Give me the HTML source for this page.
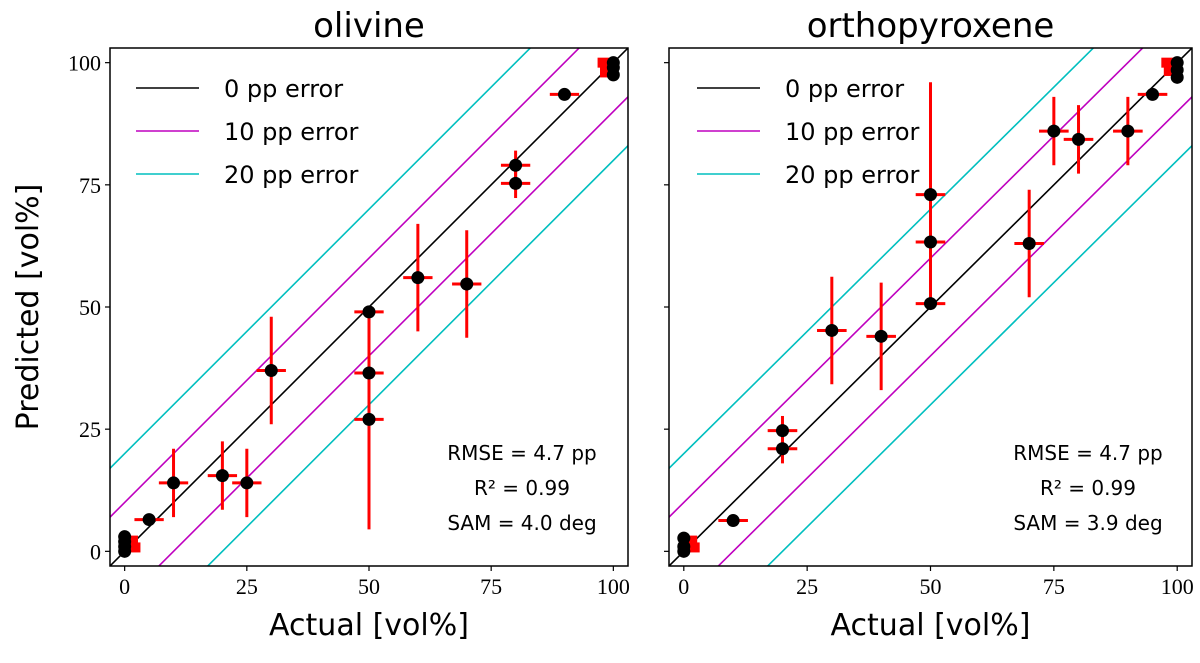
<!DOCTYPE html>
<html><head><meta charset="utf-8"><style>
body{margin:0;background:#fff}
svg text{font-family:"DejaVu Sans","Liberation Sans",sans-serif}
.tk{font-family:"Liberation Serif","DejaVu Serif",serif;font-size:22px}
</style></head><body>
<svg id="chart" width="1200" height="658" xmlns="http://www.w3.org/2000/svg"></svg>
<script>
const ticks=[0,25,50,75,100];
const errorLevels=[0,10,20];
const legendLabels=["0 pp error","10 pp error","20 pp error"];
const titles=["olivine","orthopyroxene"];
const olX=[0,0,0,0,5,10,20,25,30,50,50,50,60,70,80,80,90,100,100,100];
const olY=[0,1,2,3,6.5,14,15.5,14,37,49,36.5,27,56,54.7,79,75.3,93.5,100,99,97.5];
const olXe=[0,0,0,0,3,3,3,3,3,3,3,3,3,3,3,3,3,0,0,0];
const olYe=[0,0,0,0,0,7,7,7,11,0,11,22.5,11,11,3,3,0,0,0,0];
const olSqX=[2,1.5,98,98.5];
const olSqY=[0.8,2.2,100,98];
const opX=[0,0,0,10,20,20,30,40,50,50,50,70,75,80,90,95,100,100,100];
const opY=[0,1,2.7,6.3,24.7,21,45.2,44,73,63.3,50.7,63,86,84.3,86,93.5,100,98.5,97];
const opXe=[0,0,0,3,3,3,3,3,3,3,3,3,3,3,3,3,0,0,0];
const opYe=[0,0,0,0,3,3,11,11,23,10,0,11,7,7,7,0,0,0,0];
const opSqX=[2,1.5,98,98.5];
const opSqY=[0.8,2.2,100,98.3];
const stats=[["RMSE = 4.7 pp","R² = 0.99","SAM = 4.0 deg"],["RMSE = 4.7 pp","R² = 0.99","SAM = 3.9 deg"]];
const NS="http://www.w3.org/2000/svg";
const svg=document.getElementById('chart');
function mk(tag,attrs,parent){const e=document.createElementNS(NS,tag);for(const k in attrs)e.setAttribute(k,attrs[k]);(parent||svg).appendChild(e);return e;}
const panels=[{l:110,r:628,X:olX,Y:olY,Xe:olXe,Ye:olYe,SX:olSqX,SY:olSqY,lx:136,sx:522},{l:669,r:1192,X:opX,Y:opY,Xe:opXe,Ye:opYe,SX:opSqX,SY:opSqY,lx:697,sx:1088}];
const axTop=48,axBot=566,vmin=-3,vmax=103;
panels.forEach((p,pi)=>{
  const sx=v=>p.l+(v-vmin)/(vmax-vmin)*(p.r-p.l);
  const sy=v=>axBot-(v-vmin)/(vmax-vmin)*(axBot-axTop);
  const g=mk('g',{});
  
  
  const cid='clip'+pi;
  const cp=mk('clipPath',{id:cid},g);mk('rect',{x:p.l,y:axTop,width:p.r-p.l,height:axBot-axTop},cp);
  const cols=['#000','#bf00bf','#00bfbf'];
  const lines=mk('g',{'clip-path':`url(#${cid})`},g);
  errorLevels.forEach((e,i)=>{
    const offs=e===0?[0]:[e,-e];
    offs.forEach(o=>{
      const ln=mk('line',{x1:sx(vmin),y1:sy(vmin+o),x2:sx(vmax),y2:sy(vmax+o),stroke:cols[i],'stroke-width':1.6},lines);
      
      
    });
  });
  const pts=mk('g',{'clip-path':`url(#${cid})`},g);
  p.SX.forEach((x,i)=>{
    const s=mk('rect',{x:sx(x)-6,y:sy(p.SY[i])-5,width:12,height:10,fill:'#f00'},pts);
    
  });
  p.X.forEach((x,i)=>{
    const y=p.Y[i];
    if(p.Xe[i]>0){const h=mk('line',{x1:sx(x-p.Xe[i]),x2:sx(x+p.Xe[i]),y1:sy(y),y2:sy(y),stroke:'#f00','stroke-width':3},pts);
      }
    if(p.Ye[i]>0){const v=mk('line',{x1:sx(x),x2:sx(x),y1:sy(y-p.Ye[i]),y2:sy(y+p.Ye[i]),stroke:'#f00','stroke-width':3},pts);
      }
  });
  p.X.forEach((x,i)=>{
    const c=mk('circle',{cx:sx(x),cy:sy(p.Y[i]),r:6.5,fill:'#000'},pts);
    
  });
  const fr=mk('rect',{x:p.l,y:axTop,width:p.r-p.l,height:axBot-axTop,fill:'none',stroke:'#000','stroke-width':1.5},g);
  
  ticks.forEach(t=>{
    mk('line',{x1:sx(t),x2:sx(t),y1:axBot,y2:axBot+5,stroke:'#000','stroke-width':1.2},g);
    const tx=mk('text',{x:sx(t),y:axBot+28,'text-anchor':'middle',class:'tk'},g);tx.textContent=t;
    
    mk('line',{x1:p.l-5,x2:p.l,y1:sy(t),y2:sy(t),stroke:'#000','stroke-width':1.2},g);
    if(pi===0){const ty=mk('text',{x:p.l-9,y:sy(t)+8,'text-anchor':'end',class:'tk'},g);ty.textContent=t;
      }
  });
  const ti=mk('text',{x:(p.l+p.r)/2,y:37,'text-anchor':'middle','font-size':34},g);ti.textContent=titles[pi];
  
  const xl=mk('text',{x:(p.l+p.r)/2,y:635,'text-anchor':'middle','font-size':30},g);xl.textContent='Actual [vol%]';
  
  legendLabels.forEach((lb,i)=>{
    const yy=88+i*43;
    const le=mk('g',{},g);
    mk('line',{x1:p.lx,x2:p.lx+63,y1:yy,y2:yy,stroke:cols[i],'stroke-width':1.6},le);
    const t=mk('text',{x:p.lx+88,y:yy+9,'font-size':24},le);t.textContent=lb;
  });
  stats[pi].forEach((s,i)=>{
    const t=mk('text',{x:p.sx,y:460+i*35,'text-anchor':'middle','font-size':20},g);t.textContent=s;
    
  });
});
const yl=mk('text',{x:0,y:0,'text-anchor':'middle','font-size':30,transform:'translate(38,307) rotate(-90)'});
yl.textContent='Predicted [vol%]';


</script>
</body></html>
